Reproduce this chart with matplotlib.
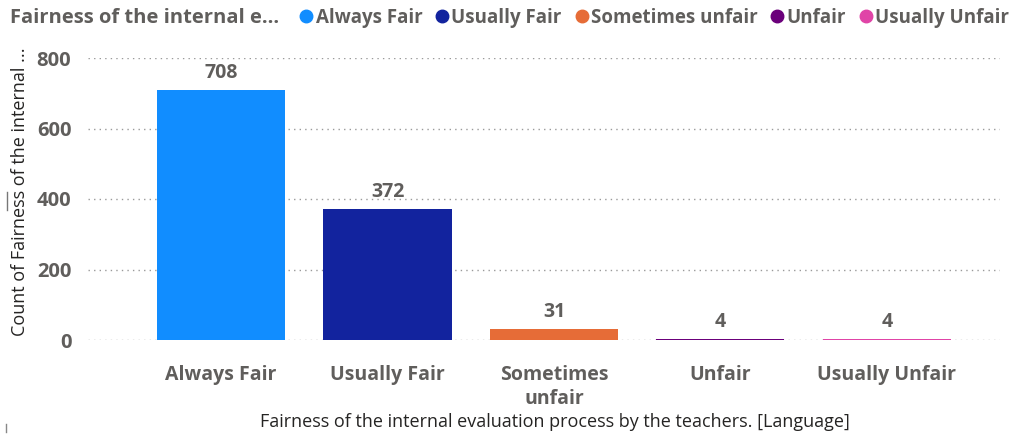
import matplotlib.pyplot as plt
import numpy as np

plt.rcParams['font.family'] = ['Open Sans', 'DejaVu Sans']

categories = ['Always Fair', 'Usually Fair', 'Sometimes unfair', 'Unfair', 'Usually Unfair']
tick_labels = ['Always Fair', 'Usually Fair', 'Sometimes\nunfair', 'Unfair', 'Usually Unfair']
counts = [708, 372, 31, 4, 4]
colors = ['#118DFF', '#12239E', '#E66C37', '#6B007B', '#E044A7']

fig = plt.figure(figsize=(10.14, 4.34), dpi=100)
ax = fig.add_axes([88/1014, 94/434, 912/1014, 282/434])

x = np.arange(len(categories))
bars = ax.bar(x, counts, width=0.77, color=colors, zorder=3)
for xi, v in zip(x, counts):
    ax.annotate(str(v), (xi, v), xytext=(0, 5), textcoords='offset points',
                ha='center', va='bottom', fontsize=14, fontweight='bold', color='#605E5C')

ax.set_xlim(-0.8, 4.68)
ax.set_ylim(0, 800)
ax.set_yticks([0, 200, 400, 600, 800])
ax.tick_params(axis='y', length=0, labelsize=14.5, labelcolor='#605E5C', pad=12)
ax.tick_params(axis='x', length=0, labelsize=14, labelcolor='#605E5C', pad=18)
for lbl in ax.get_yticklabels() + ax.get_xticklabels():
    lbl.set_fontweight('bold')
ax.set_xticks(x)
ax.set_xticklabels(tick_labels, linespacing=1.25)
ax.grid(axis='y', linestyle=(0, (1, 3)), color='#9a9a9a', linewidth=1, zorder=0)
for s in ax.spines.values():
    s.set_visible(False)

fig.text(20/1014, 1 - 192/434, 'Count of Fairness of the internal ...', rotation=90,
         ha='center', va='center', fontsize=13, color='#252423')
fig.text(555/1014, 1 - 422/434, 'Fairness of the internal evaluation process by the teachers. [Language]',
         ha='center', va='center', fontsize=13, color='#252423')

fig.text(10/1014, 1 - 18/434, 'Fairness of the internal e...', ha='left', va='center',
         fontsize=14.5, fontweight='bold', color='#605E5C')
handles = [plt.Line2D([], [], marker='o', linestyle='', color=c, markersize=9) for c in colors]
fig.legend(handles, categories, loc='center left', bbox_to_anchor=(280/1014, 1 - 18/434), ncol=5,
           frameon=False, handletextpad=0.0, columnspacing=0.55, handlelength=1.0,
           prop={'size': 13.5, 'weight': 'bold'}, labelcolor='#605E5C')

# small grey marks at the left edge
fig.add_artist(plt.Line2D([7/1014, 7/1014], [1 - 192/434, 1 - 210/434], color='#777777', lw=1))
fig.add_artist(plt.Line2D([6/1014, 6/1014], [1 - 424/434, 1 - 432/434], color='#888888', lw=1))

fig.savefig('out.png', dpi=100)
